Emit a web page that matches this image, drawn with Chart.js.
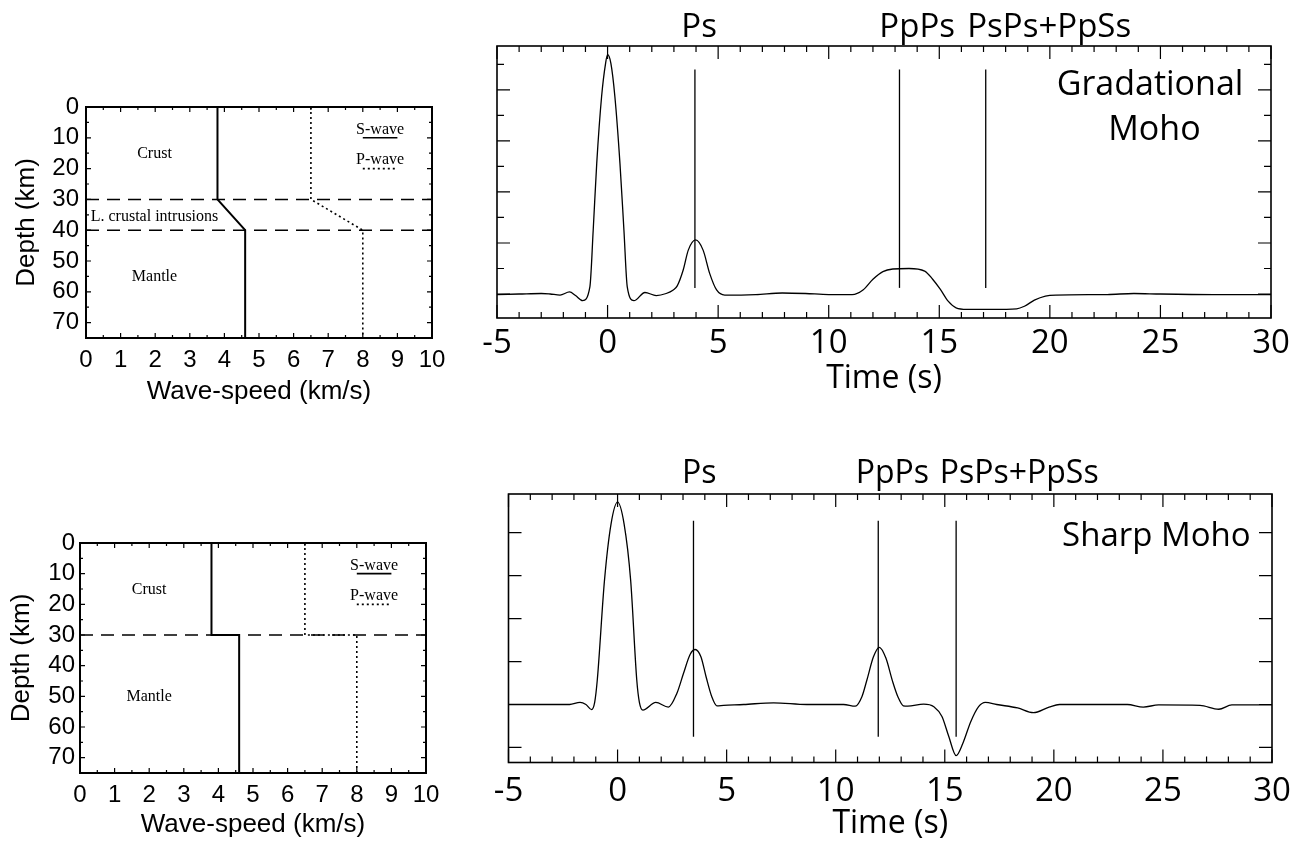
<!DOCTYPE html>
<html>
<head>
<meta charset="utf-8">
<title>Gradational vs sharp Moho receiver functions</title>
<script src="https://cdn.jsdelivr.net/npm/chart.js@4.4.1/dist/chart.umd.min.js"></script>
<style>
  html, body { margin: 0; padding: 0; background: #fff; }
  #wrap { position: relative; width: 1301px; height: 842px; overflow: hidden; }
  #wrap canvas { position: absolute; left: 0; top: 0; }
</style>
</head>
<body>
<div id="wrap">
  <canvas id="gradModel" width="1301" height="842"></canvas>
  <canvas id="gradTrace" width="1301" height="842"></canvas>
  <canvas id="sharpModel" width="1301" height="842"></canvas>
  <canvas id="sharpTrace" width="1301" height="842"></canvas>
</div>
<script>
// ---- data ----
const speedTicks = [0, 1, 2, 3, 4, 5, 6, 7, 8, 9, 10];
const depthTicks = [0, 10, 20, 30, 40, 50, 60, 70];
const timeTicks = [-5, 0, 5, 10, 15, 20, 25, 30];

// velocity models: depth (km) vs wave speed (km/s)
const gradDepth = [0, 30, 40, 75];
const gradVs = [3.8, 3.8, 4.6, 4.6];
const gradVp = [6.5, 6.5, 8.0, 8.0];
const gradInterfaces = [30, 40];

const sharpDepth = [0, 30, 30, 75];
const sharpVs = [3.8, 3.8, 4.6, 4.6];
const sharpVp = [6.5, 6.5, 8.0, 8.0];
const sharpInterfaces = [30];

// little legend sample lines (S-wave at 10 km, P-wave at 20 km)
const legendSpeeds = [8, 9];
const legendDepths = [10, 20];

// receiver functions
const gradTime = [-5, -4, -3, -2.6, -2.15, -1.72, -1.45, -1.13, -0.8, -0.65, -0.49, -0.27, -0.09, 0,
  0.15, 0.33, 0.56, 0.74, 0.89, 1.19, 1.69, 2.2, 2.65, 2.97, 3.15, 3.42, 3.65, 3.98, 4.32, 4.62,
  4.93, 5.3, 6.7, 7.9, 8.95, 10.0, 11.06, 11.55, 12.0, 12.45, 12.9, 13.63, 14.34, 14.7, 15.05,
  15.4, 15.76, 16.24, 17.4, 18.5, 18.85, 19.3, 19.8, 20.27, 22.6, 23.8, 25.0, 27.4, 30];
const gradAmp = [-0.001, 0, 0.001, 0, -0.002, 0.004, -0.003, -0.013, 0.014, 0.125, 0.256, 0.387, 0.452, 0.469,
  0.452, 0.387, 0.256, 0.125, 0.014, -0.013, 0.003, -0.003, 0.001, 0.008, 0.016, 0.047, 0.086, 0.106, 0.086, 0.04,
  0.008, -0.002, -0.001, 0.002, 0.001, -0.001, -0.001, 0.008, 0.029, 0.044, 0.049, 0.050, 0.045, 0.029, 0.009,
  -0.014, -0.027, -0.030, -0.030, -0.029, -0.024, -0.012, -0.004, -0.002, -0.001, 0.001, 0, -0.001, -0.001];

const sharpTime = [-5, -3, -2.2, -1.72, -1.45, -1.19, -1.05, -0.93, -0.6, -0.3, 0, 0.3, 0.6, 0.88, 1.0,
  1.16, 1.75, 2.33, 2.72, 3.02, 3.33, 3.56, 3.82, 4.06, 4.32, 4.55, 4.86, 5.78, 7.15, 8.68, 10.36,
  10.9, 11.2, 11.43, 11.73, 12.0, 12.3, 12.6, 12.85, 13.1, 13.3, 14.03, 14.5, 14.87, 15.18, 15.52,
  15.83, 16.19, 16.55, 16.86, 17.38, 18.34, 19.06, 19.78, 20.26, 23.37, 24.1, 24.8, 26.7, 27.56, 28.16, 30];
const sharpAmp = [0, 0, 0, 0.005, 0, -0.012, 0.005, 0.057, 0.289, 0.42, 0.471, 0.42, 0.289, 0.057, 0.005,
  -0.013, 0.005, -0.006, 0.026, 0.072, 0.117, 0.128, 0.111, 0.064, 0.018, -0.003, -0.002, 0, 0.004, 0, 0,
  -0.004, 0.018, 0.057, 0.111, 0.133, 0.108, 0.055, 0.018, -0.003, -0.004, 0.001, -0.005, -0.028, -0.074, -0.119,
  -0.09, -0.04, -0.005, 0.005, 0, -0.008, -0.019, -0.006, 0, 0, -0.006, -0.001, -0.002, -0.011, -0.001, -0.001];

// predicted phase arrivals (s) and the amplitude span of their marker lines
const phaseNames = ['Ps', 'PpPs', 'PsPs+PpSs'];
const gradPhaseTimes = [3.95, 13.2, 17.1];
const gradPhaseSpan = [0.012, 0.44];
const sharpPhaseTimes = [3.48, 11.95, 15.52];
const sharpPhaseSpan = [-0.075, 0.428];

// ---- helpers ----
const BLACK = '#000';
const SANS = "'Liberation Sans', Arial, Helvetica, sans-serif";
const SERIF = "'Liberation Serif', 'Times New Roman', serif";
const MYRIAD = "'Open Sans', 'Noto Sans', sans-serif";

function zip(xs, ys) {
    return xs.map((x, i) => ({ x: x, y: ys[i] }));
}

function steps(a, b, step) {
    const out = [];
    for (let v = a; v <= b + 1e-9; v += step) {
        out.push(Math.round(v * 1000) / 1000);
    }
    return out;
}

function lineSet(points, extra) {
    return Object.assign({
        data: points,
        borderColor: BLACK,
        borderWidth: 1.3,
        pointRadius: 0,
        tension: 0,
        fill: false
    }, extra || {});
}

// box frame plus inward ticks on all four sides
function frameTicks(cfg) {
    return {
        id: 'frameTicks',
        afterDatasetsDraw(chart) {
            const { ctx, chartArea: a } = chart;
            const xs = chart.scales.x;
            const ys = chart.scales.y;
            ctx.save();
            ctx.strokeStyle = BLACK;
            ctx.lineWidth = cfg.tickWidth;
            ctx.beginPath();
            const xt = (vals, len) => vals.forEach(v => {
                const p = xs.getPixelForValue(v);
                ctx.moveTo(p, a.bottom); ctx.lineTo(p, a.bottom - len);
                ctx.moveTo(p, a.top); ctx.lineTo(p, a.top + len);
            });
            const yt = (vals, len) => vals.forEach(v => {
                const p = ys.getPixelForValue(v);
                ctx.moveTo(a.left, p); ctx.lineTo(a.left + len, p);
                ctx.moveTo(a.right, p); ctx.lineTo(a.right - len, p);
            });
            xt(cfg.xMinor, cfg.xMinorLen);
            xt(cfg.xMajor, cfg.xMajorLen);
            yt(cfg.yMinor, cfg.yMinorLen);
            yt(cfg.yMajor, cfg.yMajorLen);
            ctx.stroke();
            ctx.lineWidth = cfg.frameWidth;
            ctx.strokeRect(a.left, a.top, a.right - a.left, a.bottom - a.top);
            ctx.restore();
        }
    };
}

// text placed in data units (or above the frame when "above" is given)
function notes(items) {
    return {
        id: 'notes',
        afterDatasetsDraw(chart) {
            const { ctx, chartArea } = chart;
            ctx.save();
            ctx.fillStyle = BLACK;
            items.forEach(it => {
                ctx.font = it.font;
                ctx.textAlign = it.align || 'center';
                ctx.textBaseline = it.baseline || 'middle';
                const x = chart.scales.x.getPixelForValue(it.x);
                const y = it.above != null ? chartArea.top - it.above : chart.scales.y.getPixelForValue(it.y);
                ctx.fillText(it.text, x, y);
            });
            ctx.restore();
        }
    };
}

function pinned(area, yWidth, xHeight) {
    return {
        left: area.left - yWidth,
        right: 1301 - area.right,
        top: area.top,
        bottom: 842 - area.bottom - xHeight
    };
}

// ---- velocity model panels ----
function modelChart(canvasId, m) {
    const datasets = [
        lineSet(zip(m.vs, m.depth), { borderWidth: 2 }),
        lineSet(zip(m.vp, m.depth), { borderWidth: 1.6, borderDash: [2, 3] })
    ];
    m.interfaces.forEach(d => {
        datasets.push(lineSet([{ x: speedTicks[0], y: d }, { x: speedTicks[speedTicks.length - 1], y: d }],
            { borderWidth: 1.5, borderDash: [13, 8] }));
    });
    datasets.push(lineSet(legendSpeeds.map(v => ({ x: v, y: legendDepths[0] })), { borderWidth: 1.6 }));
    datasets.push(lineSet(legendSpeeds.map(v => ({ x: v, y: legendDepths[1] })), { borderWidth: 1.6, borderDash: [2, 3] }));

    return new Chart(document.getElementById(canvasId).getContext('2d'), {
        type: 'line',
        data: { datasets: datasets },
        options: {
            responsive: false,
            animation: false,
            events: [],
            layout: { padding: pinned(m.area, m.yWidth, m.xHeight) },
            plugins: { legend: { display: false }, tooltip: { enabled: false } },
            scales: {
                x: {
                    type: 'linear',
                    min: 0,
                    max: 10,
                    afterBuildTicks: s => { s.ticks = speedTicks.map(v => ({ value: v })); },
                    afterFit: s => { s.height = m.xHeight; s.paddingLeft = 0; s.paddingRight = 0; },
                    grid: { display: false, drawTicks: false },
                    border: { display: false },
                    ticks: { color: BLACK, font: { family: SANS, size: 24 }, padding: m.xTickPad, maxRotation: 0, autoSkip: false },
                    title: { display: true, text: 'Wave-speed (km/s)', color: BLACK, font: { family: SANS, size: 26, lineHeight: 1 }, padding: 0 }
                },
                y: {
                    type: 'linear',
                    reverse: true,
                    min: 0,
                    max: 75,
                    afterBuildTicks: s => { s.ticks = depthTicks.map(v => ({ value: v })); },
                    afterFit: s => { s.width = m.yWidth; s.paddingTop = 0; s.paddingBottom = 0; },
                    grid: { display: false, drawTicks: false },
                    border: { display: false },
                    ticks: { color: BLACK, font: { family: SANS, size: 24 }, padding: m.yTickPad, autoSkip: false },
                    title: { display: true, text: 'Depth (km)', color: BLACK, font: { family: SANS, size: 26, lineHeight: 1 }, padding: 0 }
                }
            }
        },
        plugins: [
            frameTicks({
                frameWidth: 2, tickWidth: 1.2,
                xMajor: speedTicks, xMajorLen: 5, xMinor: steps(0.5, 9.5, 1), xMinorLen: 3,
                yMajor: depthTicks, yMajorLen: 5, yMinor: steps(5, 75, 10), yMinorLen: 3
            }),
            notes(m.labels)
        ]
    });
}

// ---- receiver function panels ----
function traceChart(canvasId, t) {
    const datasets = [
        lineSet(zip(t.time, t.amp), { borderWidth: 1.3, cubicInterpolationMode: 'monotone' })
    ];
    t.phases.forEach(p => {
        datasets.push(lineSet([{ x: p, y: t.span[0] }, { x: p, y: t.span[1] }], { borderWidth: 1.3 }));
    });

    return new Chart(document.getElementById(canvasId).getContext('2d'), {
        type: 'line',
        data: { datasets: datasets },
        options: {
            responsive: false,
            animation: false,
            events: [],
            layout: { padding: pinned(t.area, 0, t.xHeight) },
            plugins: { legend: { display: false }, tooltip: { enabled: false } },
            scales: {
                x: {
                    type: 'linear',
                    min: -5,
                    max: 30,
                    afterBuildTicks: s => { s.ticks = timeTicks.map(v => ({ value: v })); },
                    afterFit: s => { s.height = t.xHeight; s.paddingLeft = 0; s.paddingRight = 0; },
                    grid: { display: false, drawTicks: false },
                    border: { display: false },
                    ticks: { color: BLACK, font: { family: MYRIAD, size: 33 }, padding: t.xTickPad, maxRotation: 0, autoSkip: false },
                    title: { display: true, text: 'Time (s)', color: BLACK, font: { family: MYRIAD, size: 32, lineHeight: 1 }, padding: 0 }
                },
                y: {
                    type: 'linear',
                    display: false,
                    min: t.yRange[0],
                    max: t.yRange[1]
                }
            }
        },
        plugins: [
            frameTicks({
                frameWidth: 1.6, tickWidth: 1.2,
                xMajor: timeTicks, xMajorLen: 13, xMinor: steps(-5, 30, 1), xMinorLen: 6,
                yMajor: t.yMajor, yMajorLen: 13, yMinor: t.yMinor, yMinorLen: 7
            }),
            notes(t.labels)
        ]
    });
}

const serif16 = '16px ' + SERIF;

modelChart('gradModel', {
    depth: gradDepth, vs: gradVs, vp: gradVp, interfaces: gradInterfaces,
    area: { left: 86, right: 432, top: 107, bottom: 338 },
    yWidth: 72, xHeight: 67, xTickPad: 7.6, yTickPad: 7,
    labels: [
        { text: 'Crust', x: 1.98, y: 15.2, font: serif16 },
        { text: 'L. crustal intrusions', x: 1.98, y: 35.5, font: serif16 },
        { text: 'Mantle', x: 1.98, y: 55.2, font: serif16 },
        { text: 'S-wave', x: 8.5, y: 7.4, font: serif16 },
        { text: 'P-wave', x: 8.5, y: 17.3, font: serif16 }
    ]
});

modelChart('sharpModel', {
    depth: sharpDepth, vs: sharpVs, vp: sharpVp, interfaces: sharpInterfaces,
    area: { left: 80, right: 426, top: 543, bottom: 773 },
    yWidth: 71, xHeight: 65, xTickPad: 8, yTickPad: 5,
    labels: [
        { text: 'Crust', x: 2.0, y: 15.4, font: serif16 },
        { text: 'Mantle', x: 2.0, y: 50.2, font: serif16 },
        { text: 'S-wave', x: 8.5, y: 7.3, font: serif16 },
        { text: 'P-wave', x: 8.5, y: 17.2, font: serif16 }
    ]
});

traceChart('gradTrace', {
    time: gradTime, amp: gradAmp, phases: gradPhaseTimes, span: gradPhaseSpan,
    area: { left: 497, right: 1271, top: 46, bottom: 318 },
    xHeight: 76.5, xTickPad: 6,
    yRange: [-0.047, 0.486],
    yMajor: [0, 0.1, 0.2, 0.3, 0.4], yMinor: [0.05, 0.15, 0.25, 0.35, 0.45],
    labels: [
        { text: phaseNames[0], x: 4.14, above: 9.3, baseline: 'alphabetic', font: '33px ' + MYRIAD },
        { text: phaseNames[1], x: 14.0, above: 9.3, baseline: 'alphabetic', font: '33px ' + MYRIAD },
        { text: phaseNames[2], x: 19.97, above: 9.3, baseline: 'alphabetic', font: '33px ' + MYRIAD },
        { text: 'Gradational', x: 24.53, y: 0.39, baseline: 'alphabetic', font: '34px ' + MYRIAD },
        { text: 'Moho', x: 24.73, y: 0.302, baseline: 'alphabetic', font: '34px ' + MYRIAD }
    ]
});

traceChart('sharpTrace', {
    time: sharpTime, amp: sharpAmp, phases: sharpPhaseTimes, span: sharpPhaseSpan,
    area: { left: 508.5, right: 1272, top: 494, bottom: 762.5 },
    xHeight: 77.5, xTickPad: 9.7,
    yRange: [-0.135, 0.49],
    yMajor: [-0.1, 0, 0.1, 0.2, 0.3, 0.4], yMinor: [],
    labels: [
        { text: phaseNames[0], x: 3.74, above: 11, baseline: 'alphabetic', font: '32px ' + MYRIAD },
        { text: phaseNames[1], x: 12.6, above: 11, baseline: 'alphabetic', font: '32px ' + MYRIAD },
        { text: phaseNames[2], x: 18.41, above: 11, baseline: 'alphabetic', font: '32px ' + MYRIAD },
        { text: 'Sharp Moho', x: 24.7, y: 0.368, baseline: 'alphabetic', font: '33px ' + MYRIAD }
    ]
});
</script>
</body>
</html>
